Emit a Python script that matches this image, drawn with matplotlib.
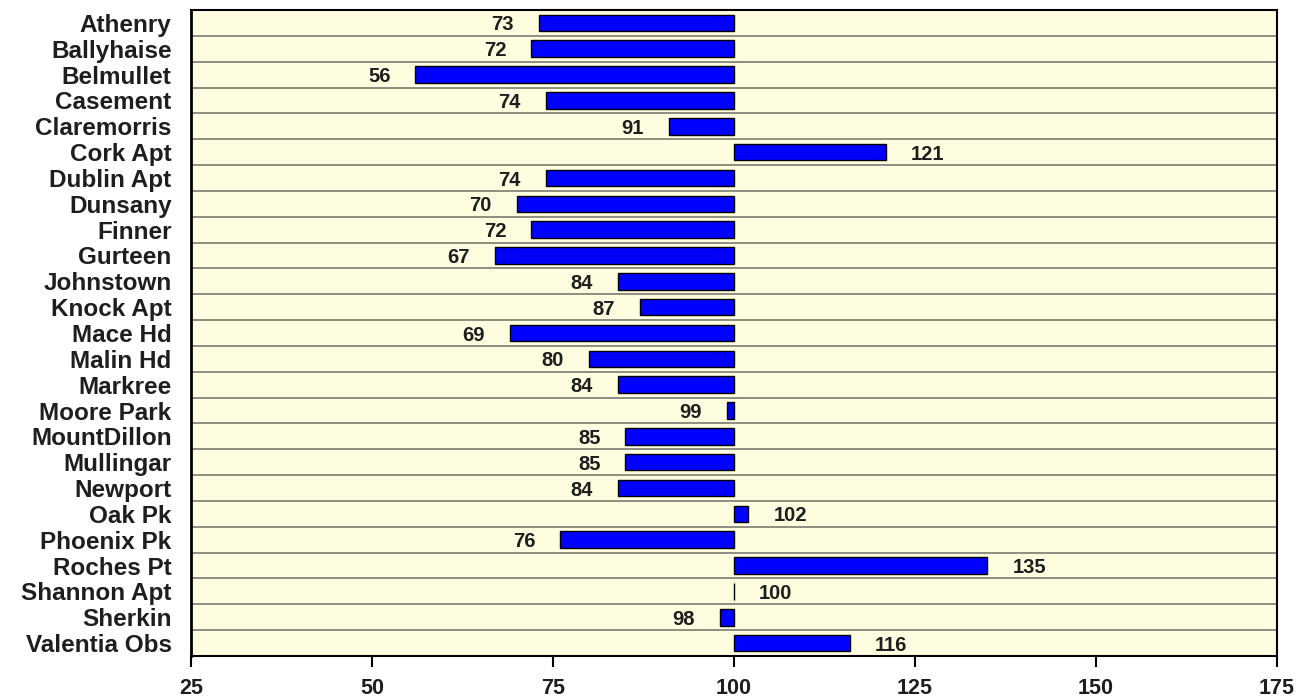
import matplotlib.pyplot as plt
import numpy as np

plt.rcParams['font.family'] = ['Liberation Sans', 'DejaVu Sans']

# station names and percentage values
stations = ['Athenry', 'Ballyhaise', 'Belmullet', 'Casement', 'Claremorris',
            'Cork Apt', 'Dublin Apt', 'Dunsany', 'Finner', 'Gurteen',
            'Johnstown', 'Knock Apt', 'Mace Hd', 'Malin Hd', 'Markree',
            'Moore Park', 'MountDillon', 'Mullingar', 'Newport', 'Oak Pk',
            'Phoenix Pk', 'Roches Pt', 'Shannon Apt', 'Sherkin', 'Valentia Obs']
values = [73, 72, 56, 74, 91, 121, 74, 70, 72, 67,
          84, 87, 69, 80, 84, 99, 85, 85, 84, 102,
          76, 135, 100, 98, 116]
xticks = [25, 50, 75, 100, 125, 150, 175]

fig = plt.figure(figsize=(13.14, 6.99), dpi=100)
ax = fig.add_axes([0.1454, 0.0615, 0.8264, 0.9242])
ax.set_facecolor('#fffde0')

y = np.arange(len(stations))
vals = np.array(values)
ax.barh(y, vals - 100, left=100, height=0.64, color='#0000ff',
        edgecolor='black', linewidth=1.0, zorder=3)

for yi, v in zip(y, vals):
    if v < 100:
        ax.annotate(str(v), (v, yi), xytext=(-18, -1.5), textcoords='offset points',
                    ha='right', va='center', fontsize=14.5, fontweight='bold',
                    color='#1e1e1e', zorder=4)
    else:
        ax.annotate(str(v), (v, yi), xytext=(18, -1.5), textcoords='offset points',
                    ha='left', va='center', fontsize=14.5, fontweight='bold',
                    color='#1e1e1e', zorder=4)

# horizontal separators between rows
for b in np.arange(0.5, len(stations) - 1, 1):
    ax.axhline(b, color='#85857a', linewidth=1.3, zorder=1)

ax.set_xlim(25, 175)
ax.set_ylim(len(stations) - 0.5, -0.5)
ax.set_xticks(xticks)
ax.set_xticklabels([str(t) for t in xticks], fontsize=15.5, fontweight='bold',
                   color='#1e1e1e')
ax.set_yticks(y)
ax.set_yticklabels(stations, fontsize=17.5, fontweight='bold', color='#1e1e1e')
ax.tick_params(axis='y', length=0, pad=14)
ax.tick_params(axis='x', length=8, width=1.5, direction='out', pad=8)
for s in ax.spines.values():
    s.set_linewidth(1.5)
ax.spines['left'].set_linewidth(2)

fig.savefig('out.png', dpi=100)
